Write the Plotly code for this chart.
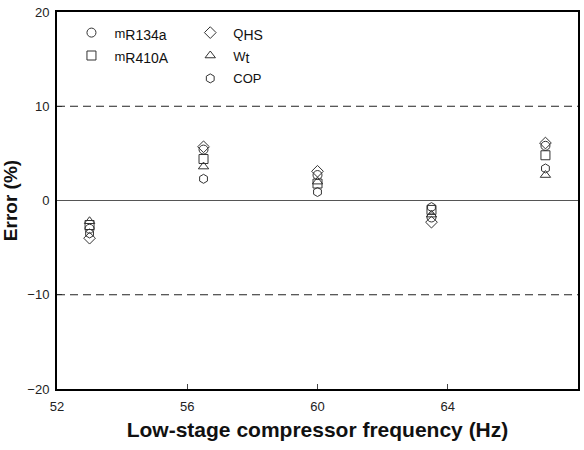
import plotly.graph_objects as go

freq = [53, 56.5, 60, 63.5, 67]
m_r134a = [-3.0, 5.4, 2.7, -1.8, 5.8]
m_r410a = [-2.6, 4.4, 1.8, -1.0, 4.8]
q_hs = [-4.0, 5.7, 3.1, -2.3, 6.1]
w_t = [-2.2, 3.6, 2.0, -1.5, 2.7]
cop = [-3.5, 2.3, 0.9, -0.7, 3.4]

def sub(base, s):
    return f"{base}<sub><span style='font-size:14px'>{s}</span></sub>"

series = [
    (sub("m", "R134a"), m_r134a, "circle-open", "legend"),
    (sub("m", "R410A"), m_r410a, "square-open", "legend"),
    (sub("Q", "HS"), q_hs, "diamond-open", "legend2"),
    (sub("W", "t"), w_t, "triangle-up-open", "legend2"),
    ("COP", cop, "hexagon-open", "legend2"),
]

fig = go.Figure()
for i, (name, vals, sym, lg) in enumerate(series):
    fig.add_trace(go.Scatter(
        x=freq, y=vals, mode="markers", name=name, legend=lg, legendgroup=f"g{i}",
        marker=dict(symbol=sym, size=9, color="#333333", line=dict(width=1, color="#333333")),
    ))

for yv, dash in [(10, "dash"), (-10, "dash"), (0, "solid")]:
    fig.add_shape(type="line", xref="paper", x0=0, x1=1, yref="y", y0=yv, y1=yv,
                  line=dict(color="#222222" if dash == "dash" else "#555555", width=1,
                            dash="solid" if dash == "solid" else "8px,5px"))

font = dict(family="Liberation Sans, Arial, sans-serif", size=13, color="#222222")
legstyle = dict(bgcolor="rgba(0,0,0,0)", font=dict(family="Liberation Sans, Arial", size=13, color="#111111"),
                tracegroupgap=3, itemwidth=36)
fig.update_layout(
    width=584, height=450,
    margin=dict(l=57, r=4, t=12, b=61),
    paper_bgcolor="white", plot_bgcolor="white",
    font=font,
    xaxis=dict(range=[52, 68], tickvals=[52, 56, 60, 64, 68], ticks="inside", ticklen=5,
               ticklabelstandoff=4,
               showgrid=False, zeroline=False, showline=True, linecolor="black", linewidth=2, mirror=True,
               title=dict(text="<b>Low-stage compressor frequency (Hz)</b>", font=dict(size=21, family="Liberation Sans, Arial", color="#111111"), standoff=10)),
    yaxis=dict(range=[-20, 20], tickvals=[-20, -10, 0, 10, 20], ticks="inside", ticklen=5,
               ticklabelstandoff=3,
               showgrid=False, zeroline=False, showline=True, linecolor="black", linewidth=2, mirror=True,
               title=dict(text="<b>Error (%)</b>", font=dict(size=19, family="Liberation Sans, Arial", color="#111111"), standoff=5)),
    legend=dict(x=0.022, y=0.985, xanchor="left", yanchor="top", **legstyle),
    legend2=dict(x=0.25, y=0.985, xanchor="left", yanchor="top", **legstyle),
)
fig.write_html("out.html")
